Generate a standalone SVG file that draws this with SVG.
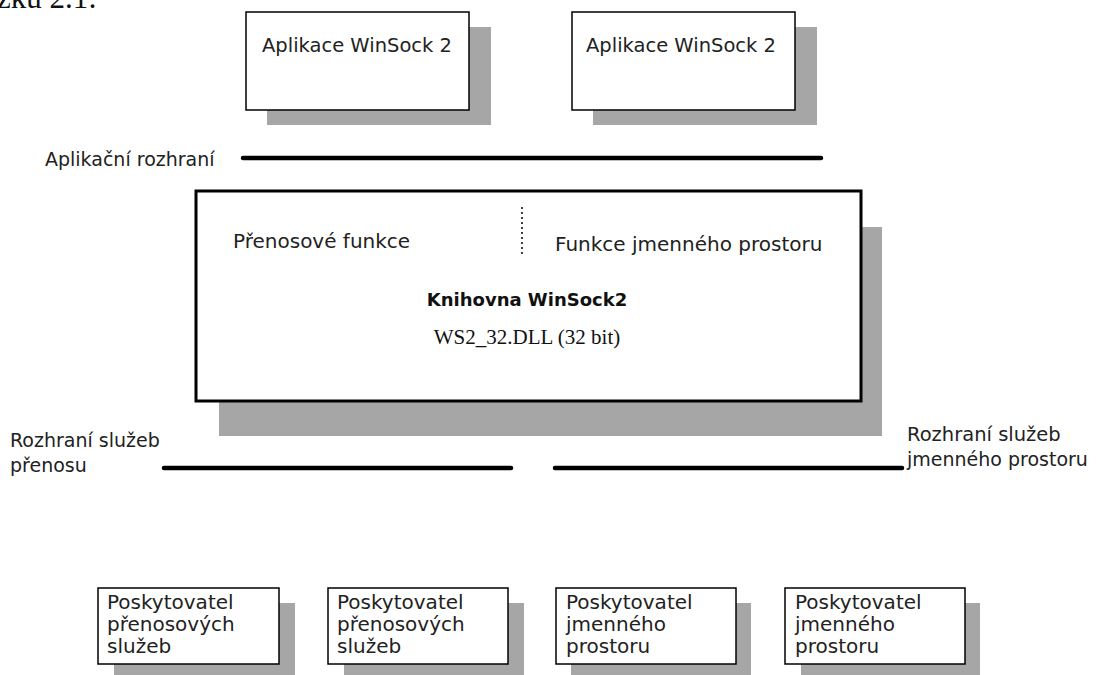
<svg xmlns="http://www.w3.org/2000/svg" width="1098" height="675" viewBox="0 0 1098 675">
<style>
.box{fill:#fff;stroke:#000;stroke-width:1.5}
.big{fill:#fff;stroke:#000;stroke-width:3}
.sh{fill:#a6a6a6}
.t{font-family:"DejaVu Sans",sans-serif;font-size:19px;fill:#222}
.m{font-size:20px}
.b{font-family:"DejaVu Sans",sans-serif;font-size:18px;font-weight:bold;fill:#111}
.s{font-family:"Liberation Serif",serif;font-size:21px;fill:#111}
.bar{stroke:#000;stroke-width:4.5;stroke-linecap:round;fill:none}
</style>
<rect width="1098" height="675" fill="#fff"/>
<text x="-3" y="8" font-family="Liberation Serif,serif" font-size="31" fill="#111">zku 2.1:</text>
<g id="app1">
<rect class="sh" x="267" y="27" width="224" height="98"/>
<rect class="box" x="246" y="12" width="223" height="98"/>
<text class="t" x="262" y="52" style="font-size:19.5px">Aplikace WinSock 2</text>
</g>
<g id="app2">
<rect class="sh" x="593" y="27" width="224" height="98"/>
<rect class="box" x="572" y="12" width="223" height="98"/>
<text class="t" x="586" y="52" style="font-size:19.5px">Aplikace WinSock 2</text>
</g>
<g id="connectors">
<line class="bar" x1="243" y1="158" x2="821" y2="158"/>
<line class="bar" x1="164" y1="468" x2="511" y2="468"/>
<line class="bar" x1="555" y1="468" x2="902" y2="468"/>
</g>
<g id="labels">
<text class="t" x="45" y="166">Aplikační rozhraní</text>
<text class="t" x="10" y="447">Rozhraní služeb</text>
<text class="t" x="10" y="472">přenosu</text>
<text class="t" x="907" y="441" style="font-size:19.5px">Rozhraní služeb</text>
<text class="t" x="907" y="466">jmenného prostoru</text>
</g>
<g id="winsock">
<rect class="sh" x="219" y="227" width="663" height="209"/>
<rect class="big" x="196" y="191" width="665" height="210"/>
<line x1="522" y1="207" x2="522" y2="257" stroke="#000" stroke-width="1.5" stroke-dasharray="2,3"/>
<text class="t m" x="233" y="248">Přenosové funkce</text>
<text class="t m" x="555" y="251">Funkce jmenného prostoru</text>
<text class="b" x="527" y="306" text-anchor="middle">Knihovna WinSock2</text>
<text class="s" x="527" y="344" text-anchor="middle">WS2_32.DLL (32 bit)</text>
</g>
<g id="p1">
<rect class="sh" x="114" y="603" width="181" height="80"/>
<rect class="box" x="98" y="588" width="181" height="76"/>
<text class="t m" x="107" y="609">Poskytovatel</text>
<text class="t m" x="107" y="631">přenosových</text>
<text class="t m" x="107" y="653">služeb</text>
</g>
<g id="p2">
<rect class="sh" x="344" y="603" width="180" height="80"/>
<rect class="box" x="328" y="588" width="180" height="76"/>
<text class="t m" x="337" y="609">Poskytovatel</text>
<text class="t m" x="337" y="631">přenosových</text>
<text class="t m" x="337" y="653">služeb</text>
</g>
<g id="p3">
<rect class="sh" x="571" y="603" width="180" height="80"/>
<rect class="box" x="556" y="588" width="180" height="76"/>
<text class="t m" x="566" y="609">Poskytovatel</text>
<text class="t m" x="566" y="631">jmenného</text>
<text class="t m" x="566" y="653">prostoru</text>
</g>
<g id="p4">
<rect class="sh" x="801" y="603" width="179" height="80"/>
<rect class="box" x="785" y="588" width="180" height="76"/>
<text class="t m" x="795" y="609">Poskytovatel</text>
<text class="t m" x="795" y="631">jmenného</text>
<text class="t m" x="795" y="653">prostoru</text>
</g>
</svg>
